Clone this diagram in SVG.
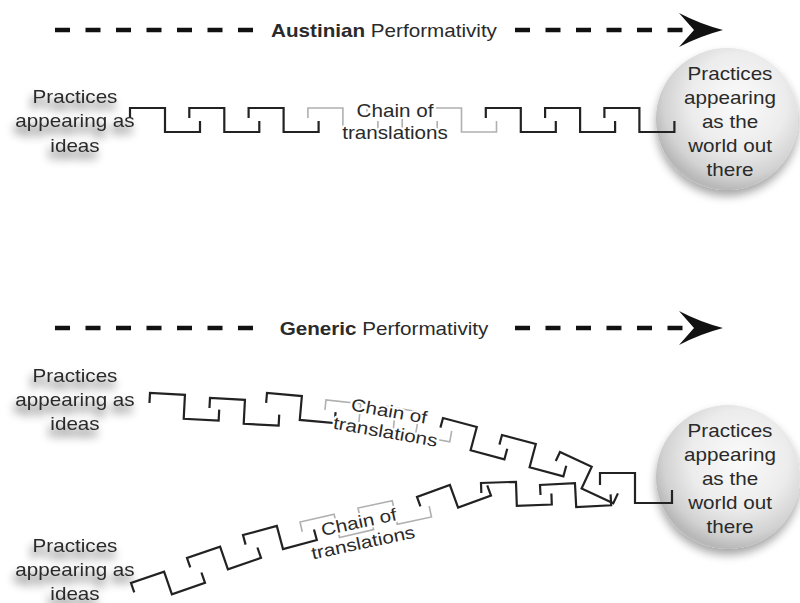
<svg xmlns="http://www.w3.org/2000/svg" xmlns:xlink="http://www.w3.org/1999/xlink" width="800" height="603" viewBox="0 0 800 603">
<style>
.t{font-family:"Liberation Sans",Arial,sans-serif;font-size:17.5px;fill:#2a2a2a;text-anchor:middle}
.b{font-weight:bold}
.halo{stroke:#fff;stroke-width:4;paint-order:stroke;stroke-linejoin:round}
.k{fill:none;stroke:#222;stroke-width:2.2;stroke-linejoin:miter}
.g{fill:none;stroke:#b0b0b0;stroke-width:1.6}
.dash{fill:none;stroke:#111;stroke-width:4.5;stroke-dasharray:15 15.5}
.ah{fill:#111}
</style>
<defs>
<path id="key" d="M0,10 V0 H35 V24 H70 V13"/>
<radialGradient id="sph" cx="58%" cy="38%" r="62%">
<stop offset="0" stop-color="#fbfbfb"/>
<stop offset="0.55" stop-color="#ececec"/>
<stop offset="0.85" stop-color="#d2d2d2"/>
<stop offset="1" stop-color="#b8b8b8"/>
</radialGradient>
<filter id="lsh" x="-30%" y="-30%" width="160%" height="180%">
<feGaussianBlur in="SourceAlpha" stdDeviation="5"/>
<feOffset dx="-2" dy="7" result="o"/>
<feComponentTransfer in="o" result="s"><feFuncA type="linear" slope="0.7"/></feComponentTransfer>
<feMerge><feMergeNode in="s"/><feMergeNode in="SourceGraphic"/></feMerge>
</filter>
<filter id="csh" x="-20%" y="-20%" width="140%" height="150%">
<feGaussianBlur in="SourceAlpha" stdDeviation="5"/>
<feOffset dx="0" dy="6" result="o"/>
<feComponentTransfer in="o" result="s"><feFuncA type="linear" slope="0.35"/></feComponentTransfer>
<feMerge><feMergeNode in="s"/><feMergeNode in="SourceGraphic"/></feMerge>
</filter>
</defs>
<rect width="800" height="603" fill="#fff"/>

<g id="world-top-shape">
<circle cx="727" cy="119" r="71" fill="url(#sph)" filter="url(#csh)"/>
</g>
<g id="world-generic-shape">
<circle cx="728" cy="477" r="72" fill="url(#sph)" filter="url(#csh)"/>
</g>

<g id="connectors">
<g id="arrow-austinian">
<line class="dash" x1="55" y1="30" x2="256" y2="30"/>
<line class="dash" x1="515" y1="30" x2="690" y2="30"/>
<path class="ah" d="M679,13 Q700,24 723,30 Q700,36 679,47 L694,30 Z"/>
</g>
<g id="arrow-generic">
<line class="dash" x1="55" y1="328" x2="256" y2="328"/>
<line class="dash" x1="515" y1="328" x2="690" y2="328"/>
<path class="ah" d="M679,311 Q700,322 723,328 Q700,334 679,345 L694,328 Z"/>
</g>
<g id="chain-top">
<use href="#key" class="k" transform="translate(130,108)"/>
<use href="#key" class="k" transform="translate(189.3,108)"/>
<use href="#key" class="k" transform="translate(248.6,108)"/>
<use href="#key" class="g" transform="translate(307.9,108)"/>
<use href="#key" class="g" transform="translate(367.2,108)"/>
<use href="#key" class="g" transform="translate(426.5,108)"/>
<use href="#key" class="k" transform="translate(485.8,108)"/>
<use href="#key" class="k" transform="translate(545.1,108)"/>
<use href="#key" class="k" transform="translate(604.4,108)"/>
</g>
<g id="chain-generic-1">
<use href="#key" class="k" transform="translate(150,393) rotate(3)"/>
<use href="#key" class="k" transform="translate(210,398) rotate(3)"/>
<use href="#key" class="k" transform="translate(267,393) rotate(5)"/>
<use href="#key" class="g" transform="translate(326,400) rotate(6)"/>
<use href="#key" class="g" transform="translate(385,406) rotate(10)"/>
<use href="#key" class="k" transform="translate(443,418) rotate(15)"/>
<use href="#key" class="k" transform="translate(502,435) rotate(15)"/>
<use href="#key" class="k" transform="translate(560,452) rotate(25)"/>
</g>
<g id="chain-generic-2">
<use href="#key" class="k" transform="translate(131,583) rotate(-19)"/>
<use href="#key" class="k" transform="translate(187,558) rotate(-19)"/>
<use href="#key" class="k" transform="translate(243,535) rotate(-15)"/>
<use href="#key" class="g" transform="translate(300,522) rotate(-13)"/>
<use href="#key" class="g" transform="translate(358,508) rotate(-12)"/>
<use href="#key" class="k" transform="translate(417,497) rotate(-20)"/>
<use href="#key" class="k" transform="translate(481,483) rotate(-2)"/>
<use href="#key" class="k" transform="translate(540,485) rotate(-3)"/>
</g>
<path id="chain-generic-end" class="k" d="M600,485 V473 H635 V503 H672 V490"/>
</g>

<g id="label-austinian">
<text class="t" transform="translate(384,37) scale(1.18,1)"><tspan class="b">Austinian</tspan> Performativity</text>
</g>
<g id="label-generic">
<text class="t" transform="translate(384,335) scale(1.18,1)"><tspan class="b">Generic</tspan> Performativity</text>
</g>

<g id="chain-label-top">
<text class="t halo" transform="translate(395,117) scale(1.18,1)"><tspan x="0" y="0">Chain of</tspan><tspan x="0" y="22">translations</tspan></text>
</g>
<g id="chain-label-generic-1">
<text class="t halo" transform="translate(388,417) rotate(10) scale(1.18,1)"><tspan x="0" y="0">Chain of</tspan><tspan x="0" y="21">translations</tspan></text>
</g>
<g id="chain-label-generic-2">
<text class="t halo" transform="translate(360,528) rotate(-12) scale(1.18,1)"><tspan x="0" y="0">Chain of</tspan><tspan x="0" y="21">translations</tspan></text>
</g>

<g id="ideas-top" filter="url(#lsh)">
<text class="t" transform="translate(75,103) scale(1.18,1)"><tspan x="0" y="0">Practices</tspan><tspan x="0" y="24.5">appearing as</tspan><tspan x="0" y="49">ideas</tspan></text>
</g>
<g id="ideas-generic-1" filter="url(#lsh)">
<text class="t" transform="translate(75,382) scale(1.18,1)"><tspan x="0" y="0">Practices</tspan><tspan x="0" y="24">appearing as</tspan><tspan x="0" y="48">ideas</tspan></text>
</g>
<g id="ideas-generic-2" filter="url(#lsh)">
<text class="t" transform="translate(75,552) scale(1.18,1)"><tspan x="0" y="0">Practices</tspan><tspan x="0" y="24">appearing as</tspan><tspan x="0" y="48">ideas</tspan></text>
</g>

<g id="world-top">
<text class="t" transform="translate(730,80) scale(1.18,1)"><tspan x="0" y="0">Practices</tspan><tspan x="0" y="24">appearing</tspan><tspan x="0" y="48">as the</tspan><tspan x="0" y="72">world out</tspan><tspan x="0" y="96">there</tspan></text>
</g>
<g id="world-generic">
<text class="t" transform="translate(730,437) scale(1.18,1)"><tspan x="0" y="0">Practices</tspan><tspan x="0" y="24">appearing</tspan><tspan x="0" y="48">as the</tspan><tspan x="0" y="72">world out</tspan><tspan x="0" y="96">there</tspan></text>
</g>
</svg>
